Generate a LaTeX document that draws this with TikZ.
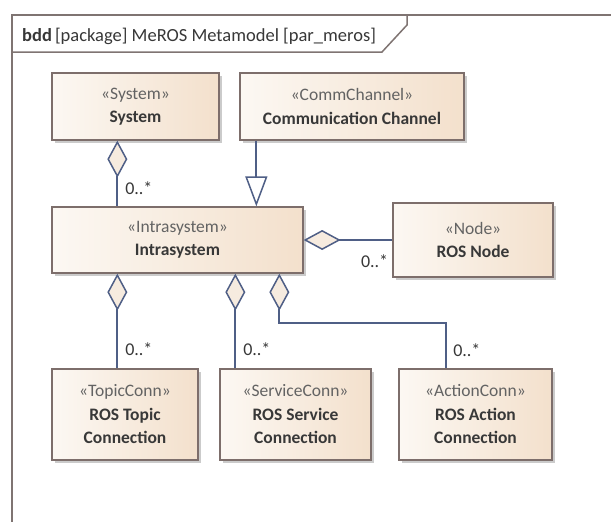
\documentclass[tikz,border=0pt]{standalone}
\usepackage{fontspec}
\setmainfont{Carlito}
\usetikzlibrary{arrows.meta,shadows,calc}
\definecolor{boxline}{HTML}{7D6E6B}
\definecolor{boxlight}{HTML}{FCF8F3}
\definecolor{boxdark}{HTML}{F3E0CC}
\definecolor{connclr}{HTML}{4F5F86}
\definecolor{txt}{HTML}{383838}
\definecolor{stereo}{HTML}{636363}
\definecolor{frameline}{HTML}{7F7472}
\definecolor{diafill}{HTML}{F6EBDF}

\tikzset{
  block/.style={draw=boxline, line width=1.3pt, shading=axis,
    left color=boxlight, right color=boxdark, text=txt, align=center,
    inner sep=0pt, font=\fontsize{17.5}{23.5}\selectfont,
    drop shadow={shadow xshift=2.5pt, shadow yshift=-2.5pt, fill=black!45, opacity=.45}},
  link/.style={draw=connclr, line width=1.8pt},
  agg/.style={link, {Diamond[length=37pt, width=20pt, fill=diafill, line width=1.5pt]}-},
  gen/.style={link, -{Triangle[length=30pt, width=22pt, fill=white, line width=1.5pt]}},
  mult/.style={text=txt, inner sep=0pt, font=\fontsize{18}{20}\selectfont},
}

\newcommand{\stereo}[1]{\textcolor{stereo}{«#1»}}

\begin{document}
\begin{tikzpicture}[x=1pt, y=-1pt, font=\fontsize{18}{23.5}\selectfont]
\useasboundingbox (0,0) rectangle (611,522);
\fill[white] (0,0) rectangle (611,522);
\begin{scope}
\clip (0,0) rectangle (611,522);
% diagram frame and its name tab
\draw[frameline, line width=1.8pt] (12,15) rectangle (640,560);
\draw[frameline, line width=1.5pt] (12,52) -- (382,52) -- (407,25) -- (407,15);
\end{scope}
\node[anchor=west, text=txt, inner sep=0pt, font=\fontsize{18.5}{22}\selectfont] (title) at (22,36)
  {\textbf{bdd}\,[package] MeROS Metamodel [par\_meros]};

% blocks
\node[block, minimum width=167pt, minimum height=67pt] (sys) at (135.5,106.5)
  {\stereo{System}\\\textbf{System}};
\node[block, minimum width=224pt, minimum height=67pt] (comm) at (352,106.5)
  {\stereo{CommChannel}\\\textbf{Communication Channel}};
\node[block, minimum width=251pt, minimum height=66pt] (intra) at (177.5,240)
  {\stereo{Intrasystem}\\\textbf{Intrasystem}};
\node[block, minimum width=160pt, minimum height=74pt] (rosnode) at (473,240)
  {\stereo{Node}\\\textbf{ROS Node}};
\node[block, minimum width=146pt, minimum height=91pt] (topic) at (125,414.5)
  {\stereo{TopicConn}\\\textbf{ROS Topic}\\\textbf{Connection}};
\node[block, minimum width=151pt, minimum height=91pt] (service) at (295.5,414.5)
  {\stereo{ServiceConn}\\\textbf{ROS Service}\\\textbf{Connection}};
\node[block, minimum width=153pt, minimum height=91pt] (action) at (475.5,414.5)
  {\stereo{ActionConn}\\\textbf{ROS Action}\\\textbf{Connection}};

% aggregations and generalization
\draw[agg] ([xshift=66pt]sys.south west) -- ([xshift=66pt]intra.north west)
  node[mult, pos=0.72, anchor=west, xshift=7pt] {0..*};
\draw[gen] ([xshift=17pt]comm.south west) -- ([xshift=205pt]intra.north west);
\draw[agg] (intra.east) -- (rosnode.west)
  node[mult, pos=0.8, yshift=-21pt] {0..*};
\draw[agg] ([xshift=66pt]intra.south west) -- ([xshift=66pt]topic.north west)
  node[mult, pos=0.8, anchor=west, xshift=7pt] {0..*};
\draw[agg] ([xshift=184pt]intra.south west) -- ([xshift=16pt]service.north west)
  node[mult, pos=0.8, anchor=west, xshift=7pt] {0..*};
\draw[agg] ([xshift=228pt]intra.south west) -- ++(0,49)
  -| node[mult, pos=0.8, anchor=west, xshift=6pt] {0..*} ([xshift=48pt]action.north west);
\end{tikzpicture}
\end{document}
